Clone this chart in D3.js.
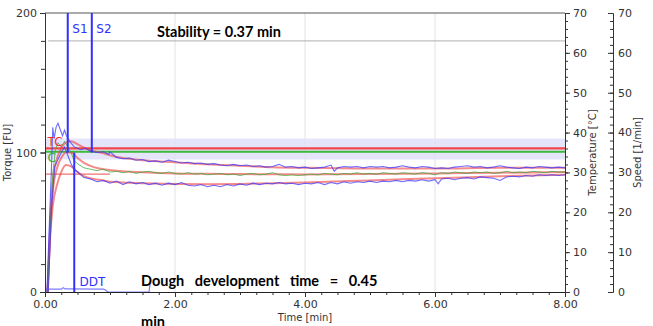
<!DOCTYPE html>
<html>
<head>
<meta charset="utf-8">
<script src="https://cdn.jsdelivr.net/npm/d3@7"></script>
<style>
  body { margin: 0; background: #fff; }
  text { font-family: "DejaVu Sans", sans-serif; }
  .note { font-family: Lato, "Open Sans", sans-serif; font-weight: bold; font-size: 14.5px; fill: #000; white-space: pre; }
</style>
</head>
<body>
<div id="chart"></div>
<script>
// time [min] / torque [FU]
const upperT = [0.03,0.06,0.1,0.12,0.14,0.17,0.2,0.23,0.27,0.3,0.33,0.38,0.45,0.55,0.62,0.7,0.8,0.9,0.98,
  1.0,1.1,1.2,1.3,1.4,1.5,1.6,1.7,1.8,1.9,2.0,2.1,2.2,2.3,2.4,2.5,2.6,2.7,2.8,2.9,3.0,3.1,3.2,3.3,3.4,3.5,3.6,3.7,3.8,3.9,
  4.0,4.1,4.2,4.3,4.4,4.45,4.5,4.6,4.7,4.8,4.9,5.0,5.1,5.2,5.3,5.4,5.5,5.6,5.7,5.8,5.9,6.0,6.1,6.2,6.3,6.4,6.5,6.6,6.7,6.8,6.9,
  7.0,7.1,7.2,7.3,7.4,7.5,7.6,7.7,7.8,7.9,8.0];
const upperV = [0,40,90,118,110,118,121,117,112,116,112,108,104,102,103,101,100,100.5,98.5,
  100.5,96.5,95.5,96,94.5,95,93.5,94,93,94.5,93.5,92.5,93,92,92.5,91.5,92,91,90.5,91.5,90.5,91,90,90.5,89.5,90,91.5,89.5,90,89,
  89.5,88.5,89,89.5,91,86.5,89,90,89.5,90,89,90,89.5,90,89,89.5,90.5,89.5,89,90,89.5,88.5,89,88.5,89.5,90,90.5,89.5,90,89,89.5,
  90.5,89.5,89,88.5,89.5,89,90,89.5,89,89.5,89];
const medT = [0.04,0.08,0.12,0.16,0.2,0.25,0.3,0.35,0.4,0.45,0.5,0.6,0.7,0.8,0.9,
  1.0,1.1,1.2,1.3,1.4,1.5,1.6,1.7,1.8,1.9,2.0,2.1,2.2,2.3,2.4,2.5,2.6,2.7,2.8,2.9,3.0,3.1,3.2,3.3,3.4,3.5,3.6,3.7,3.8,3.9,
  4.0,4.1,4.2,4.3,4.4,4.5,4.6,4.7,4.8,4.9,5.0,5.1,5.2,5.3,5.4,5.5,5.6,5.7,5.8,5.9,6.0,6.1,6.2,6.3,6.4,6.5,6.6,6.7,6.8,6.9,
  7.0,7.1,7.2,7.3,7.4,7.5,7.6,7.7,7.8,7.9,8.0];
const medV = [0,45,85,102,107,104,108,104,100,94,92,89,88,87,88,
  86,86.5,85.5,86.5,85,86,86.5,85.5,85,86,85,84.5,85.5,84.5,85,84,84.5,85,84,84.5,83.5,84.5,85,84,84.5,85.5,84,83.5,84,83.5,
  84,84.5,84,85,84.5,84,85,84.5,85.5,84.5,85,84.5,85.5,85,84.5,85.5,85,84.5,85.5,85,84,85.5,85,86,85.5,85,86,85.5,86,85,
  85.5,86.5,85.5,86,85.5,86.5,86,85.5,86.5,86,86];
const lowerT = [0.05,0.1,0.15,0.2,0.25,0.3,0.35,0.4,0.45,0.5,0.6,0.7,0.8,0.9,
  1.0,1.1,1.2,1.3,1.4,1.5,1.6,1.7,1.8,1.9,2.0,2.1,2.2,2.3,2.4,2.5,2.6,2.7,2.8,2.9,3.0,3.1,3.2,3.3,3.4,3.5,3.6,3.7,3.8,3.9,
  4.0,4.1,4.2,4.3,4.4,4.5,4.6,4.7,4.8,4.9,5.0,5.1,5.2,5.3,5.4,5.5,5.6,5.7,5.8,5.9,6.0,6.05,6.1,6.2,6.3,6.4,6.5,6.6,6.7,6.8,6.9,
  7.0,7.1,7.2,7.3,7.4,7.5,7.6,7.7,7.8,7.9,8.0];
const lowerV = [0,60,90,95,100,104,98,92,88,86,82,81,79,80,
  78,79.5,77,79,77.5,78.5,77,78,76.5,78,77,78.5,76.5,76,77,75.5,76.5,75.5,77,76,77.5,76.5,78,77,78,77.5,78.5,77.5,78,77,
  78,77.5,78.5,77,78.5,77.5,79,78,79,78.5,79.5,78.5,79.5,79,80,79,80,79.5,80.5,79.5,80.5,77.5,81,81.5,80.5,81.5,82,81,82.5,82,81.5,
  80,82.5,83,82.5,83.5,83,84,83.5,84,83.5,84];
// smoothed fits
const fitT = [0.04,0.08,0.12,0.18,0.25,0.32,0.4,0.5,0.6,0.75,0.9,1.0,1.2,1.5,2.0,2.5,3.0,3.5,4.0,5.0,6.0,7.0,8.0];
const fitUpper = [0,50,80,95,103,107,108,106,103.5,101,99.5,98,96,94.5,93,91.5,90.5,89.5,89,88.5,88.5,89,89];
const fitMed = [0,45,72,88,96,100,100,96,92.5,89.5,88,87.5,86.5,85.8,85,84.7,84.5,84.4,84.3,84.5,85,85.5,86];
const fitLower = [0,40,62,76,86,91,90,86,83,81,80,79,78.5,78,77.5,77.3,77.5,78,78.5,80,81.5,83,84];
const tcLevel = 103, cLevel = 100.5, bandLow = 95, bandHigh = 110, refLine = 180, startLine = 84.5;
const speedT = [0,0.25,0.28,0.31,0.9,0.93,0.97,1.6,1.62];
const speedV = [2,2,3,2.2,2,1.5,0,0,7];
const s1 = 0.35, s2 = 0.72, ddt = 0.45;
const xTicks = [0,2,4,6,8];
const yTicks = [0,100,200];
const rTicks = [0,10,20,30,40,50,60,70];

const W = 653, H = 326;
const m = {left: 45, right: 88, top: 13, bottom: 34};
const svg = d3.select("#chart").append("svg").attr("width", W).attr("height", H);

const x = d3.scaleLinear().domain([0, 8]).range([m.left, W - m.right]);
const y = d3.scaleLinear().domain([0, 200]).range([H - m.bottom, m.top]);
const yT = d3.scaleLinear().domain([0, 70]).range([H - m.bottom, m.top]);

svg.append("clipPath").attr("id", "clip").append("rect")
  .attr("x", x(0)).attr("y", y(200)).attr("width", x(8) - x(0)).attr("height", y(0) - y(200));
const g = svg.append("g").attr("clip-path", "url(#clip)");

// band
g.append("rect").attr("x", x(0)).attr("width", x(8) - x(0))
  .attr("y", y(bandHigh)).attr("height", y(bandLow) - y(bandHigh)).attr("fill", "#e4e4fa");

// grid
g.selectAll(".vg").data([2, 4, 6]).enter().append("line")
  .attr("x1", d => x(d)).attr("x2", d => x(d)).attr("y1", y(0)).attr("y2", y(200))
  .attr("stroke", "#e2e2e8").attr("stroke-width", 1);
g.append("line").attr("x1", x(0.05)).attr("x2", x(8)).attr("y1", y(refLine)).attr("y2", y(refLine))
  .attr("stroke", "#b0b0b0").attr("stroke-width", 1);

// level lines
g.append("line").attr("x1", x(0)).attr("x2", x(8)).attr("y1", y(tcLevel)).attr("y2", y(tcLevel))
  .attr("stroke", "#f04848").attr("stroke-width", 2.2);
g.append("line").attr("x1", x(0)).attr("x2", x(8)).attr("y1", y(cLevel)).attr("y2", y(cLevel))
  .attr("stroke", "#3cb83c").attr("stroke-width", 2);
g.append("line").attr("x1", x(0)).attr("x2", x(1.0)).attr("y1", y(startLine)).attr("y2", y(startLine))
  .attr("stroke", "#f07070").attr("stroke-width", 1.2);

const line = (ts, vs) => d3.line().x((d, i) => x(ts[i])).y(d => y(d))(vs);
const lineC = (ts, vs) => d3.line().curve(d3.curveMonotoneX).x((d, i) => x(ts[i])).y(d => y(d))(vs);

// fits
[fitUpper, fitMed, fitLower].forEach(v => {
  g.append("path").attr("d", lineC(fitT, v)).attr("fill", "none")
    .attr("stroke", "rgba(240,60,60,0.6)").attr("stroke-width", 2);
});
// measured curves
g.append("path").attr("d", line(medT, medV)).attr("fill", "none")
  .attr("stroke", "rgba(60,170,60,0.75)").attr("stroke-width", 1);
g.append("path").attr("d", line(upperT, upperV)).attr("fill", "none")
  .attr("stroke", "rgba(60,60,255,0.75)").attr("stroke-width", 1.1);
g.append("path").attr("d", line(lowerT, lowerV)).attr("fill", "none")
  .attr("stroke", "rgba(60,60,255,0.75)").attr("stroke-width", 1.1);
g.append("path").attr("d", line(speedT, speedV)).attr("fill", "none")
  .attr("stroke", "rgba(90,90,255,0.8)").attr("stroke-width", 1.2);

// markers
[s1, s2].forEach(t => g.append("line").attr("x1", x(t)).attr("x2", x(t)).attr("y1", y(200)).attr("y2", y(100))
  .attr("stroke", "#3030ff").attr("stroke-width", 2));
g.append("line").attr("x1", x(ddt)).attr("x2", x(ddt)).attr("y1", y(0)).attr("y2", y(100))
  .attr("stroke", "#3030ff").attr("stroke-width", 2);

// frame top
svg.append("line").attr("x1", x(0)).attr("x2", x(8)).attr("y1", y(200)).attr("y2", y(200))
  .attr("stroke", "#555").attr("stroke-width", 1);

// axes
const styleAxis = sel => {
  sel.selectAll("path,line").attr("stroke", "#333");
  sel.selectAll("text").attr("fill", "#333").style("font-size", "11px");
};
svg.append("g").attr("transform", `translate(0,${y(0)})`)
  .call(d3.axisBottom(x).tickValues(d3.range(0, 8.01, 0.25)).tickSize(3).tickFormat(""))
  .call(styleAxis).select(".domain").attr("stroke", "#222");
svg.append("g").attr("transform", `translate(0,${y(0)})`)
  .call(d3.axisBottom(x).tickValues(xTicks).tickSize(5).tickFormat(d3.format(".2f")))
  .call(styleAxis).call(s => s.select(".domain").remove());

svg.append("g").attr("transform", `translate(${x(0)},0)`)
  .call(d3.axisLeft(y).tickValues(d3.range(0, 201, 20)).tickSize(4).tickFormat(""))
  .call(styleAxis);
svg.append("g").attr("transform", `translate(${x(0)},0)`)
  .call(d3.axisLeft(y).tickValues(yTicks).tickSize(5).tickFormat(d3.format("d")))
  .call(styleAxis).call(s => s.select(".domain").remove());

svg.append("g").attr("transform", `translate(${x(8)},0)`)
  .call(d3.axisRight(yT).tickValues(d3.range(0, 71, 2)).tickSize(3).tickFormat(""))
  .call(styleAxis);
svg.append("g").attr("transform", `translate(${x(8)},0)`)
  .call(d3.axisRight(yT).tickValues(rTicks).tickSize(5).tickFormat(d3.format("d")))
  .call(styleAxis).call(s => s.select(".domain").remove());

const sx = 613;
svg.append("g").attr("transform", `translate(${sx},0)`)
  .call(d3.axisLeft(yT).tickValues(d3.range(0, 71, 2)).tickSize(3).tickFormat(""))
  .call(styleAxis);
svg.append("g").attr("transform", `translate(${sx},0)`)
  .call(d3.axisLeft(yT).tickValues(rTicks).tickSize(5).tickFormat(""))
  .call(styleAxis).call(s => s.select(".domain").remove());
svg.append("g").selectAll("text").data(rTicks).enter().append("text")
  .attr("x", sx + 5).attr("y", d => yT(d)).attr("dy", "0.35em")
  .attr("fill", "#333").style("font-size", "11px").text(d => d);

// axis titles
svg.append("text").attr("transform", `translate(11,${y(100)}) rotate(-90)`)
  .attr("text-anchor", "middle").attr("fill", "#333").style("font-size", "10px").text("Torque [FU]");
svg.append("text").attr("transform", `translate(596,${y(100)}) rotate(-90)`)
  .attr("text-anchor", "middle").attr("fill", "#333").style("font-size", "10px").text("Temperature [°C]");
svg.append("text").attr("transform", `translate(641,${y(100)}) rotate(-90)`)
  .attr("text-anchor", "middle").attr("fill", "#333").style("font-size", "10px").text("Speed [1/min]");
svg.append("text").attr("x", x(4)).attr("y", 321).attr("text-anchor", "middle")
  .attr("fill", "#333").style("font-size", "10px").text("Time [min]");

// labels
const lab = (t, v, txt, col) => svg.append("text").attr("x", x(t)).attr("y", y(v))
  .attr("fill", col).style("font-size", "12px").text(txt);
lab(s1 + 0.07, 186, "S1", "#3030ff");
lab(s2 + 0.07, 186, "S2", "#3030ff");
lab(0.04, 105, "TC", "#f03030");
lab(0.04, 93, "C", "#30b030");
lab(ddt + 0.08, 4, "DDT", "#3030ff");

svg.append("text").attr("class", "note").attr("x", 157).attr("y", 37).text("Stability = 0.37 min");
svg.append("text").attr("class", "note").attr("x", 141).attr("y", 286).text("Dough   development   time   =   0.45");
svg.append("text").attr("class", "note").attr("x", 141).attr("y", 327).text("min");
</script>
</body>
</html>
